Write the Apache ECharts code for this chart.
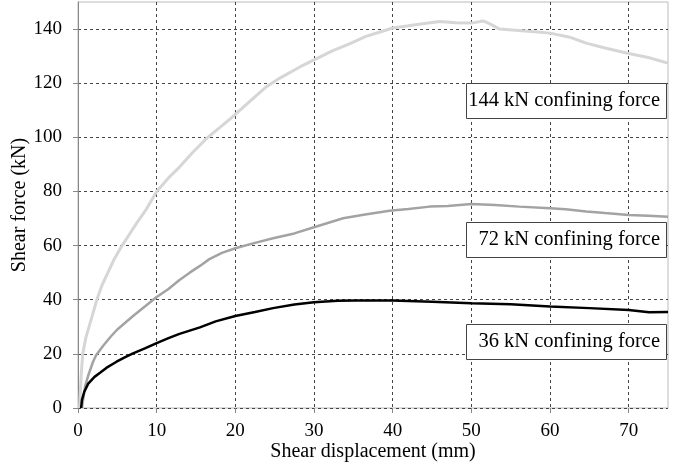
<!DOCTYPE html>
<html>
<head>
<meta charset="utf-8">
<script src="https://cdn.jsdelivr.net/npm/echarts@6/dist/echarts.min.js"></script>
<style>
  html, body { margin: 0; padding: 0; background: #fff; }
  #shearChart { width: 678px; height: 468px; }
</style>
</head>
<body>
<div id="shearChart"></div>
<script>
// shear displacement (mm) / shear force (kN)
const disp144 = [0.2, 0.4, 0.6, 1.0, 1.4, 1.9, 2.4, 3.0, 3.8, 4.6, 5.6, 6.5, 7.5, 8.7, 10, 11.5, 12.9, 14.6, 16.3, 18.4, 19.7, 22.7, 24, 25.6, 28.2, 30, 32.4, 34.5, 36.6, 38.5, 40, 42, 43.8, 46, 48, 50, 51.5, 52.3, 53.6, 56, 58, 60, 62.5, 64.6, 67, 70, 72.5, 75]
const force144 = [0, 12, 20, 26, 30, 35, 40, 45, 50, 55, 60, 64, 68.5, 73.5, 80, 85, 89, 94.5, 99.5, 104.5, 107.7, 115.5, 118.8, 121.8, 126, 128.6, 132, 134.5, 137.3, 139, 140.4, 141.2, 142, 142.8, 142.3, 142.2, 143, 142, 140, 139.5, 139, 138.5, 137, 134.8, 133, 131, 129.5, 127.4]

const disp72 = [0.5, 0.9, 1.3, 1.9, 2.3, 3.2, 4.2, 5, 6, 7, 8.5, 10, 11.5, 12.9, 14.2, 15.5, 16.7, 18.3, 20, 22.5, 24.8, 27.5, 30, 33.7, 36.5, 39.6, 42, 44.7, 47, 50, 53, 56.1, 60, 62, 64.6, 67, 70, 72.5, 75]
const force72 = [0, 8, 12, 17, 19.5, 23, 26.5, 29, 31.5, 34, 37.5, 41, 44, 47.3, 50, 52.5, 55, 57.3, 59, 61, 62.7, 64.5, 66.8, 70.1, 71.5, 72.9, 73.5, 74.4, 74.6, 75.4, 75, 74.4, 73.8, 73.4, 72.6, 72, 71.3, 71, 70.7]

const disp36 = [0.4, 0.5, 0.8, 1.3, 2.1, 2.8, 3.6, 4.9, 6, 7, 8.5, 10, 11.5, 12.9, 14.2, 15.5, 17.5, 20, 22.5, 24.8, 27.5, 30, 33, 35.4, 40, 45, 50, 55, 60, 65, 70, 72.6, 75]
const force36 = [0, 3, 6, 9, 11.5, 13, 14.8, 17.1, 18.8, 20.2, 22, 24, 25.8, 27.4, 28.6, 29.8, 32, 34, 35.5, 36.9, 38.2, 39.1, 39.6, 39.7, 39.7, 39.3, 38.7, 38.3, 37.5, 36.9, 36.2, 35.4, 35.5]

const labels = ['144 kN confining force', '72 kN confining force', '36 kN confining force']

const serif = '"Liberation Serif", "Times New Roman", serif'

function pairs(xs, ys) {
  return xs.map((x, i) => [x, ys[i]])
}

// label box: white rect with text pushed to the right
function labelBox(text, top) {
  return [
    {
      type: 'rect',
      shape: { x: 466.5, y: top + 0.5, width: 200, height: 35 },
      style: { fill: '#fff', stroke: '#444', lineWidth: 1 },
      z: 100
    },
    {
      type: 'text',
      x: 660,
      y: top + 18,
      style: {
        text: text,
        align: 'right',
        verticalAlign: 'middle',
        font: '20.5px ' + serif,
        fill: '#000'
      },
      z: 101
    }
  ]
}

const chart = echarts.init(document.getElementById('shearChart'))

const gridLine = {
  show: true,
  lineStyle: { color: '#444', width: 1, type: [3, 3] }
}

const option = {
  animation: false,
  backgroundColor: '#fff',
  grid: {
    left: 78,
    right: 10,
    top: 2,
    bottom: 60,
    outerBoundsMode: 'none', // keep the plot box fixed, labels sit outside it
    show: true,
    borderColor: '#bbb',
    borderWidth: 1
  },
  xAxis: {
    type: 'value',
    min: 0,
    max: 75,
    interval: 10,
    name: 'Shear displacement (mm)',
    nameLocation: 'middle',
    nameGap: 34,
    nameMoveOverlap: false,
    nameTextStyle: { fontFamily: serif, fontSize: 20, color: '#000' },
    axisLine: { show: false },
    axisTick: { show: true, length: 5, lineStyle: { color: '#888' } },
    axisLabel: { fontFamily: serif, fontSize: 19, color: '#000', margin: 14, showMaxLabel: false },
    splitLine: Object.assign({ showMinLine: false, showMaxLine: false }, gridLine)
  },
  yAxis: {
    type: 'value',
    min: 0,
    max: 150,
    interval: 20,
    name: 'Shear force (kN)',
    nameLocation: 'middle',
    nameGap: 48,
    nameMoveOverlap: false,
    nameTextStyle: { fontFamily: serif, fontSize: 20, color: '#000' },
    axisLine: { show: true, lineStyle: { color: '#888' } },
    axisTick: { show: true, length: 5, lineStyle: { color: '#888' } },
    axisLabel: { fontFamily: serif, fontSize: 19, color: '#000', margin: 16, showMaxLabel: false },
    splitLine: Object.assign({ showMaxLine: false }, gridLine)
  },
  series: [
    {
      name: labels[0],
      type: 'line',
      data: pairs(disp144, force144),
      showSymbol: false,
      lineStyle: { color: '#d6d6d6', width: 3 },
      z: 3
    },
    {
      name: labels[1],
      type: 'line',
      data: pairs(disp72, force72),
      showSymbol: false,
      lineStyle: { color: '#a3a3a3', width: 2.5 },
      z: 4
    },
    {
      name: labels[2],
      type: 'line',
      data: pairs(disp36, force36),
      showSymbol: false,
      lineStyle: { color: '#000', width: 2.5 },
      z: 5
    }
  ],
  graphic: [].concat(
    labelBox(labels[0], 83),
    labelBox(labels[1], 222),
    labelBox(labels[2], 324)
  )
}

chart.setOption(option)
</script>
</body>
</html>
